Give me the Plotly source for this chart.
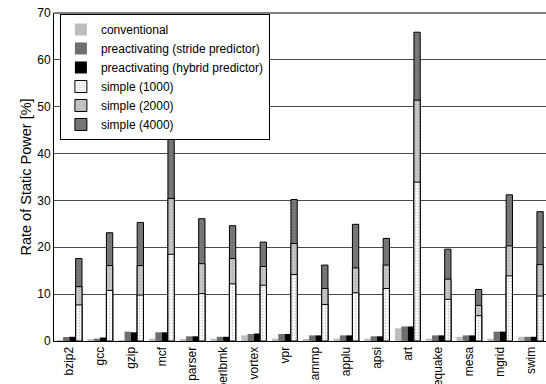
import plotly.graph_objects as go

benchmarks = ["bzip2", "gcc", "gzip", "mcf", "parser", "perlbmk", "vortex", "vpr",
              "ammp", "applu", "apsi", "art", "equake", "mesa", "mgrid", "swim"]
conventional = [0.2, 0.3, 0.1, 0.5, 0.3, 0.5, 1.2, 0.5, 0.4, 0.5, 0.5, 2.7, 0.5, 0.9, 0.5, 0.9]
stride = [0.85, 0.5, 2.0, 1.85, 1.0, 0.9, 1.5, 1.5, 1.2, 1.2, 1.0, 3.1, 1.2, 1.2, 2.0, 0.9]
hybrid = [0.9, 0.75, 1.85, 1.85, 1.0, 0.9, 1.6, 1.5, 1.2, 1.2, 1.0, 3.1, 1.2, 1.2, 2.0, 0.9]
simple_1000 = [7.7, 10.8, 9.8, 18.5, 10.1, 12.2, 11.9, 14.2, 7.8, 10.3, 11.2, 33.9, 8.9, 5.4, 13.9, 9.6]
simple_2000 = [11.6, 16.1, 16.1, 30.4, 16.5, 17.6, 15.9, 20.8, 11.2, 15.6, 16.2, 51.4, 13.2, 7.6, 20.3, 16.3]
simple_4000 = [17.6, 23.1, 25.3, 44.0, 26.1, 24.6, 21.1, 30.2, 16.2, 24.9, 21.9, 65.9, 19.6, 11.0, 31.2, 27.6]

fig = go.Figure()

fig.add_trace(go.Bar(x=benchmarks, y=conventional, name="conventional", offsetgroup="a",
                     marker=dict(color="#bdbdbd", line=dict(width=0)), legendrank=1))
fig.add_trace(go.Bar(x=benchmarks, y=stride, name="preactivating (stride predictor)", offsetgroup="b",
                     marker=dict(color="#6e6e6e", line=dict(width=0)), legendrank=2))
fig.add_trace(go.Bar(x=benchmarks, y=hybrid, name="preactivating (hybrid predictor)", offsetgroup="c",
                     marker=dict(color="#000000", line=dict(width=0)), legendrank=3))

# overlapping simple bars, tallest drawn first
fig.add_trace(go.Bar(x=benchmarks, y=simple_4000, name="simple (4000)", offsetgroup="d",
                     marker=dict(color="#7a7a7a", line=dict(color="#000", width=1),
                                 pattern=dict(shape=".", fgcolor="#5e5e5e", bgcolor="#7a7a7a",
                                              size=3, solidity=0.3)),
                     legendrank=6))
fig.add_trace(go.Bar(x=benchmarks, y=simple_2000, name="simple (2000)", offsetgroup="d",
                     marker=dict(color="#c4c4c4", line=dict(color="#000", width=1),
                                 pattern=dict(shape=".", fgcolor="#9a9a9a", bgcolor="#c8c8c8",
                                              size=3, solidity=0.3)),
                     legendrank=5))
fig.add_trace(go.Bar(x=benchmarks, y=simple_1000, name="simple (1000)", offsetgroup="d",
                     marker=dict(color="#ffffff", line=dict(color="#000", width=1),
                                 pattern=dict(shape=".", fgcolor="#9a9a9a", bgcolor="#ffffff",
                                              size=3, solidity=0.3)),
                     legendrank=4))

fig.update_layout(
    width=546, height=384,
    margin=dict(l=54, r=0, t=13, b=43),
    barmode="group", bargap=0.18, bargroupgap=0,
    plot_bgcolor="white", paper_bgcolor="white",
    font=dict(family="Liberation Sans, Arial, sans-serif", size=12, color="#000"),
    showlegend=True,
    legend=dict(x=0.012, y=0.997, xanchor="left", yanchor="top",
                bgcolor="white", bordercolor="#000", borderwidth=1,
                font=dict(size=12), tracegroupgap=0, traceorder="normal"),
    xaxis=dict(tickangle=-90, showline=True, linecolor="#000", linewidth=1,
               ticks="", showgrid=False, automargin=False, mirror=False,
               tickfont=dict(size=12)),
    yaxis=dict(range=[0, 70], dtick=10, showline=True, linecolor="#000", linewidth=1,
               showgrid=True, gridcolor="#4a4a4a", gridwidth=1, zeroline=False,
               ticks="", automargin=False, tickfont=dict(size=12),
               title=dict(text="Rate of Static Power [%]", font=dict(size=14.5), standoff=2)),
)

fig.add_shape(type="line", xref="paper", yref="paper", x0=0, x1=1, y0=1, y1=1,
              line=dict(color="#000", width=1))

fig.write_html("out.html")
